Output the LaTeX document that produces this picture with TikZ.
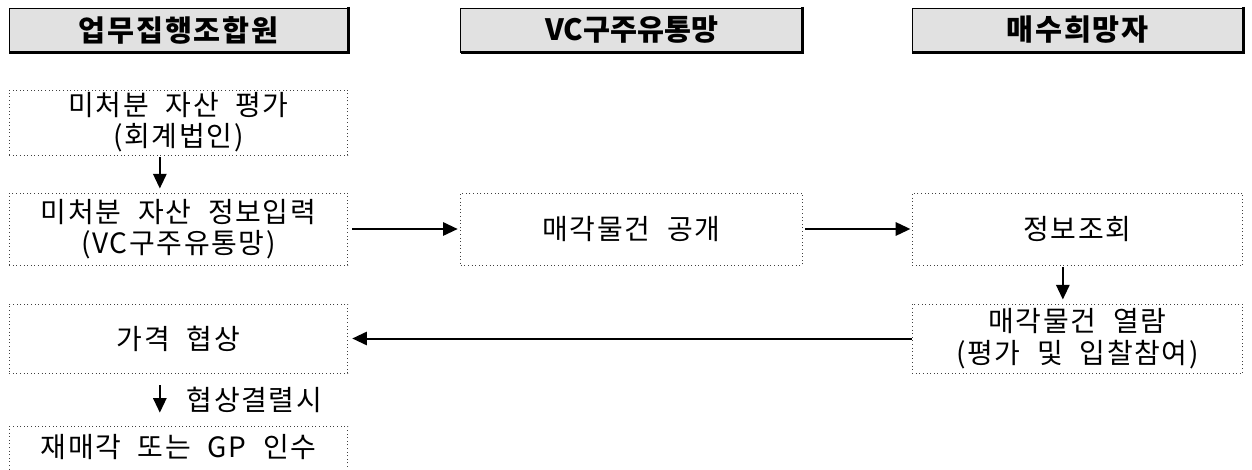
\documentclass[tikz,border=0pt]{standalone}
\usepackage{fontspec}
\setmainfont{Noto Sans CJK KR}[WordSpace=2.1]
\usetikzlibrary{arrows.meta}

\begin{document}
\begin{tikzpicture}[x=0.75pt,y=0.75pt,yscale=-1,xscale=1,
		hdr/.style={draw, line width=0.6pt, fill={rgb, 255:red, 225; green, 225; blue, 225}, minimum height=33pt, inner sep=0pt, font=\fontsize{22}{26}\selectfont\bfseries},
		dotbox/.style={draw=black!75, dotted, line width=0.7pt, inner sep=0pt, align=center, font=\fontsize{21}{23.5}\selectfont\addfontfeature{LetterSpace=6}},
		arr/.style={line width=1.5pt, -{Triangle[length=11pt,width=10pt]}}]
		\useasboundingbox (0,0) rectangle (1252,470);
		\node[hdr, minimum width=254pt] (hdrA) at (178.5,30) {\addfontfeature{LetterSpace=6}업무집행조합원};
		\node[hdr, minimum width=256pt] (hdrB) at (631.5,30) {VC구주유통망};
		\node[hdr, minimum width=248pt] (hdrC) at (1077.5,30) {\addfontfeature{LetterSpace=6}매수희망자};
		\foreach \h in {hdrA,hdrB,hdrC}
			\draw[line width=2pt] ([yshift=-0.5pt]\h.north east) -- (\h.south east) -- ([xshift=0.5pt]\h.south west);
		\node[dotbox, minimum width=254pt, minimum height=48.75pt] (evalbox) at (178.5,122.5) {미처분 자산 평가\\(회계법인)};
		\node[dotbox, minimum width=254pt, minimum height=54pt] (inputbox) at (178.5,229) {미처분 자산 정보입력\\(VC구주유통망)};
		\node[dotbox, minimum width=256pt, minimum height=54pt] (openbox) at (631.5,229) {매각물건 공개};
		\node[dotbox, minimum width=248pt, minimum height=54pt] (querybox) at (1077.5,229) {정보조회};
		\node[dotbox, minimum width=248pt, minimum height=51.75pt] (viewbox) at (1077.5,338.5) {매각물건 열람\\(평가 및 입찰참여)};
		\node[dotbox, minimum width=254pt, minimum height=51.75pt] (negobox) at (178.5,338.5) {가격\hspace{0.6em}협상};
		\node[dotbox, anchor=north, minimum width=254pt, text height=23pt, text depth=26pt] (resalebox) at (178.5,426) {재매각 또는 GP 인수};
		\draw[arr, shorten <=1pt, shorten >=3pt] ([xshift=-14pt]evalbox.south) -- ([xshift=-14pt]inputbox.north);
		\draw[arr, shorten <=3pt, shorten >=2pt] (inputbox.east) -- (openbox.west);
		\draw[arr, shorten <=2pt, shorten >=1pt] (openbox.east) -- (querybox.west);
		\draw[arr, shorten <=1pt, shorten >=3pt] ([xshift=-11pt]querybox.south) -- ([xshift=-11pt]viewbox.north);
		\draw[arr, shorten >=3pt] (viewbox.west) -- (negobox.east);
		\draw[arr, shorten <=9pt, shorten >=10pt] ([xshift=-14pt]negobox.south) -- ([xshift=-14pt]resalebox.north)
			node[midway, right=16pt, font=\fontsize{21}{23.5}\selectfont\addfontfeature{LetterSpace=6}] (failnote) {협상결렬시};
\end{tikzpicture}
\end{document}
